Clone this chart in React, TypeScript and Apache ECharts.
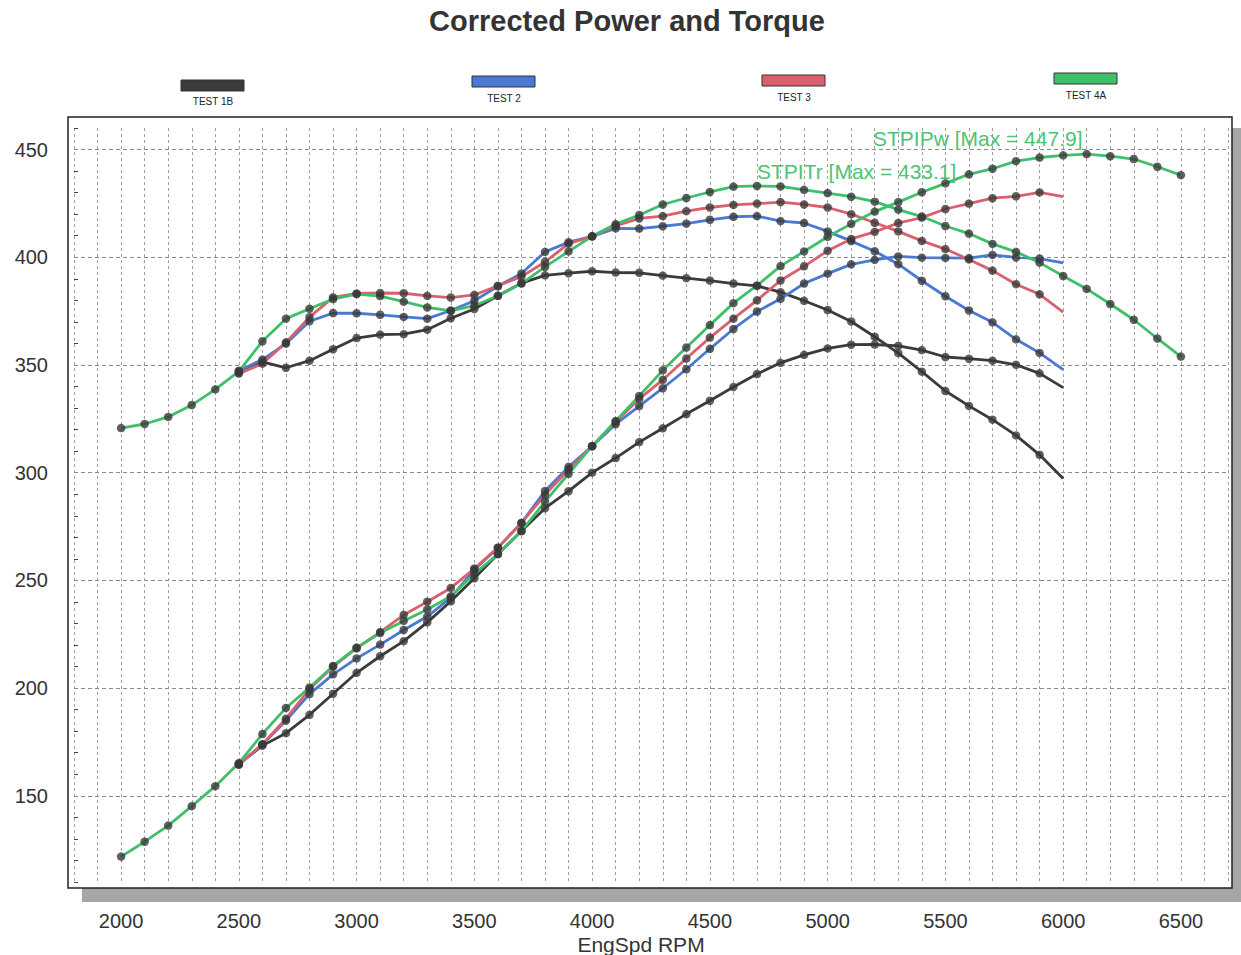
import React, { useEffect, useRef } from "react";
import * as echarts from "echarts";

const rpmAll = [2000, 2100, 2200, 2300, 2400, 2500, 2600, 2700, 2800, 2900, 3000, 3100, 3200, 3300, 3400, 3500, 3600, 3700, 3800, 3900, 4000, 4100, 4200, 4300, 4400, 4500, 4600, 4700, 4800, 4900, 5000, 5100, 5200, 5300, 5400, 5500, 5600, 5700, 5800, 5900, 6000, 6100, 6200, 6300, 6400, 6500];
const rpmTests = [2500, 2600, 2700, 2800, 2900, 3000, 3100, 3200, 3300, 3400, 3500, 3600, 3700, 3800, 3900, 4000, 4100, 4200, 4300, 4400, 4500, 4600, 4700, 4800, 4900, 5000, 5100, 5200, 5300, 5400, 5500, 5600, 5700, 5800, 5900, 6000];

// TEST 4A (green)
const torque4A = [320.7, 322.6, 325.9, 331.4, 338.7, 347, 361, 371.5, 376.1, 380.6, 382.9, 382, 379.4, 376.7, 375.1, 377.5, 382.1, 387.8, 395.5, 402.7, 409.7, 415.4, 419.6, 424.5, 427.5, 430.3, 432.8, 433.1, 432.9, 431.3, 429.8, 428.1, 425.8, 422.1, 418.9, 414.5, 411, 406.2, 402.5, 397.5, 391.3, 385.3, 378.3, 371, 362.3, 353.9];
const power4A = [121.8, 128.7, 136.2, 145.2, 154.5, 165.2, 178.7, 190.8, 200.3, 210.3, 218.8, 225.6, 231.2, 236.5, 242.6, 253, 262.2, 272.9, 286.6, 299.5, 312.3, 324, 335.6, 347.5, 358.1, 368.5, 378.7, 386.9, 395.9, 402.7, 409.5, 415.5, 421.2, 425.6, 430.2, 434.3, 438.5, 441.1, 444.6, 446.3, 447.3, 447.9, 446.9, 445.6, 442, 438.1];
// TEST 3 (red)
const torque3 = [346, 350.6, 360.5, 372.2, 381.4, 383.2, 383.4, 383.3, 382.1, 381.3, 382.5, 386.8, 391, 397.8, 406.3, 409.7, 414.6, 418, 419.1, 421.4, 423.1, 424.3, 424.9, 425.6, 424.5, 423.1, 420, 416, 412, 407.6, 403.8, 399, 393.8, 387.5, 382.8, 374.5];
const power3 = [164.5, 174, 185.8, 199.5, 210, 218.5, 226, 234, 240.1, 246.5, 255.5, 265.2, 276.7, 289.7, 301.5, 312.3, 323.5, 334.3, 343.1, 353, 362.7, 371.5, 380, 389.2, 395.8, 403, 408.5, 411.8, 415.9, 418.4, 422.4, 424.9, 427.4, 428.3, 430.1, 428.2];
// TEST 2 (blue)
const torque2 = [347.3, 352.5, 359.9, 370.3, 374.1, 374, 373.3, 372.3, 371.5, 375.3, 379.8, 386.5, 392.5, 402.5, 407, 409.7, 413.4, 413.3, 414.4, 415.6, 417.4, 418.8, 419.1, 416.8, 415.9, 412, 407.5, 402.8, 396.8, 389.1, 381.9, 375.3, 369.8, 361.9, 355.6, 347.8];
const power2 = [164.5, 173.8, 184.9, 197.2, 206.4, 213.8, 220.2, 227, 233.2, 242, 255, 265.2, 276.7, 291.5, 302.7, 312.3, 322.5, 330.9, 339.2, 348, 357.5, 366.7, 374.8, 380.7, 387.8, 392.4, 396.7, 398.8, 400.4, 399.8, 399.7, 399.6, 401.1, 399.9, 399.4, 397.4];
// TEST 1B (black)
const torque1B = [346.5, 351.4, 348.7, 352, 357.3, 362.5, 364.1, 364.3, 366.4, 371.7, 376, 382.1, 388, 391.6, 392.6, 393.5, 392.9, 392.8, 391.5, 390.3, 389.2, 387.8, 386.7, 383.8, 379.8, 375.5, 370.2, 363.1, 355.5, 346.9, 337.9, 331, 324.6, 317.3, 308.3, 297.3];
const power1B = [164.8, 173.3, 179.1, 187.6, 197.4, 207.1, 214.8, 221.8, 230.5, 240.3, 251, 262.2, 272.9, 283.5, 291.4, 300, 306.8, 314.2, 320.6, 327.2, 333.4, 339.8, 345.8, 351, 354.7, 357.7, 359.4, 359.5, 358.9, 356.9, 353.7, 352.9, 352, 350.1, 346.1, 339.5];

const hGridValues = [150, 200, 250, 300, 350, 400, 450];
const legendNames = ["TEST 1B", "TEST 2", "TEST 3", "TEST 4A"];
const colors = ["#3b3b3b", "#4a78d2", "#d9606c", "#3ec06a"];

const FONT = "'Liberation Sans', Arial, sans-serif";

export default function App() {
  const ref = useRef<HTMLDivElement>(null);
  useEffect(() => {
    if (!ref.current) return;
    const chart = echarts.init(ref.current, undefined, { renderer: "svg" });

    const tests = [
      { name: legendNames[0], color: colors[0], rpm: rpmTests, t: torque1B, p: power1B, lastMarker: false },
      { name: legendNames[1], color: colors[1], rpm: rpmTests, t: torque2, p: power2, lastMarker: false },
      { name: legendNames[2], color: colors[2], rpm: rpmTests, t: torque3, p: power3, lastMarker: false },
      { name: legendNames[3], color: colors[3], rpm: rpmAll, t: torque4A, p: power4A, lastMarker: true },
    ];

    const series: any[] = [];
    tests.forEach((tst, i) => {
      [tst.t, tst.p].forEach((vals, k) => {
        const s: any = {
          type: "line",
          name: tst.name + (k === 0 ? " Tr" : " Pw"),
          data: tst.rpm.map((r, j) => [r, vals[j]]),
          showSymbol: false,
          smooth: false,
          lineStyle: { color: tst.color, width: 2.8 },
          itemStyle: { color: tst.color },
          z: 3 + i,
        };
        if (i === 0 && k === 0) {
          s.markLine = {
            silent: true,
            symbol: ["none", "none"],
            label: { show: false },
            lineStyle: { color: "#8a8a8a", width: 1, type: [4, 3] },
            data: hGridValues.map((v) => ({ yAxis: v })),
            z: 1,
          };
        }
        series.push(s);
        const n = tst.lastMarker ? tst.rpm.length : tst.rpm.length - 1;
        series.push({
          type: "scatter",
          data: tst.rpm.slice(0, n).map((r, j) => [r, vals[j]]),
          symbol: "circle",
          symbolSize: 8.5,
          itemStyle: { color: "#383838" },
          z: 10,
        });
      });
    });

    const legendPos = [
      { x: 181, y: 80, ty: 101 },
      { x: 472, y: 76, ty: 98 },
      { x: 762, y: 75, ty: 97 },
      { x: 1054, y: 73, ty: 95 },
    ];

    const graphics: any[] = [
      // shadow
      { type: "rect", shape: { x: 82, y: 888, width: 1159, height: 14 }, style: { fill: "#a6a6a6" }, z: 0 },
      { type: "rect", shape: { x: 1232, y: 128, width: 9, height: 774 }, style: { fill: "#a6a6a6" }, z: 0 },
      // frame
      { type: "rect", shape: { x: 68, y: 117, width: 1164, height: 771 }, style: { fill: "none", stroke: "#222", lineWidth: 1.5 }, z: 20 },
      // title
      {
        type: "text", x: 627, y: 21, z: 20,
        style: { text: "Corrected Power and Torque", font: `bold 29px ${FONT}`, fill: "#333", textAlign: "center", textVerticalAlign: "middle", align: "center", verticalAlign: "middle" },
      },
      // x axis name
      {
        type: "text", x: 641, y: 944, z: 20,
        style: { text: "EngSpd RPM", font: `21px ${FONT}`, fill: "#333", textAlign: "center", textVerticalAlign: "middle", align: "center", verticalAlign: "middle" },
      },
      // annotations
      {
        type: "text", x: 873, y: 138, z: 20,
        style: { text: "STPIPw [Max = 447.9]", font: `21px ${FONT}`, fill: "#4cc474", textAlign: "left", textVerticalAlign: "middle", align: "left", verticalAlign: "middle" },
      },
      {
        type: "text", x: 757, y: 171, z: 20,
        style: { text: "STPITr [Max = 433.1]", font: `21px ${FONT}`, fill: "#4cc474", textAlign: "left", textVerticalAlign: "middle", align: "left", verticalAlign: "middle" },
      },
    ];
    legendPos.forEach((p, i) => {
      graphics.push({
        type: "rect", shape: { x: p.x, y: p.y, width: 63, height: 11 },
        style: { fill: colors[i], stroke: "#333", lineWidth: 1 }, z: 20,
      });
      graphics.push({
        type: "text", x: p.x + 32, y: p.ty, z: 20,
        style: { text: legendNames[i], font: `10px 'Liberation Sans Narrow', ${FONT}`, fill: "#222", textAlign: "center", textVerticalAlign: "middle", align: "center", verticalAlign: "middle" },
      });
    });

    chart.setOption({
      animation: false,
      backgroundColor: "#ffffff",
      grid: { left: 74, top: 128, width: 1154, height: 754, containLabel: false },
      xAxis: {
        type: "value",
        min: 1800,
        max: 6700,
        interval: 100,
        axisLine: { show: false },
        axisTick: { show: false },
        axisLabel: {
          margin: 29,
          fontSize: 20,
          color: "#333",
          fontFamily: FONT,
          formatter: (v: number) => (v % 500 === 0 && v >= 2000 && v <= 6500 ? String(v) : ""),
        },
        splitLine: { show: true, lineStyle: { color: "#a0a0a0", width: 1, type: [3, 3] } },
      },
      yAxis: {
        type: "value",
        min: 110,
        max: 460,
        interval: 10,
        axisLine: { show: false },
        axisTick: { show: true, inside: true, length: 4, lineStyle: { color: "#444" } },
        axisLabel: {
          margin: 26,
          fontSize: 20,
          color: "#333",
          fontFamily: FONT,
          formatter: (v: number) => (v % 50 === 0 && v >= 150 && v <= 450 ? String(v) : ""),
        },
        splitLine: { show: false },
      },
      graphic: graphics,
      series,
    });

    return () => chart.dispose();
  }, []);

  return <div ref={ref} style={{ position: "absolute", left: 0, top: 0, width: 1241, height: 955, background: "#fff" }} />;
}
